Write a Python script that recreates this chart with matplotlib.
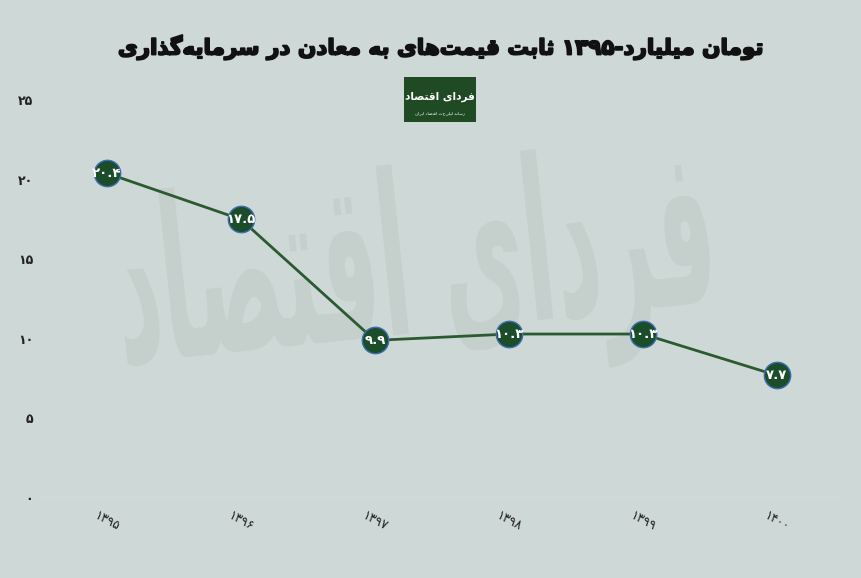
import matplotlib
matplotlib.use("Agg")
import matplotlib.pyplot as plt
import matplotlib.patheffects as pe
from matplotlib.patches import Rectangle, PathPatch
from matplotlib.textpath import TextPath
from matplotlib.font_manager import FontProperties
from matplotlib.transforms import Affine2D, IdentityTransform

# ===== DATA =====
years = ["۱۳۹۵", "۱۳۹۶", "۱۳۹۷", "۱۳۹۸", "۱۳۹۹", "۱۴۰۰"]
values = [20.4, 17.5, 9.9, 10.3, 10.3, 7.7]
value_labels = ["۲۰.۴", "۱۷.۵", "۹.۹", "۱۰.۳", "۱۰.۳", "۷.۷"]
y_ticks = [0, 5, 10, 15, 20, 25]
y_tick_labels = ["۰", "۵", "۱۰", "۱۵", "۲۰", "۲۵"]
title = "سرمایه‌گذاری در معادن به قیمت‌های ثابت ۱۳۹۵-میلیارد تومان"
brand = "فردای اقتصاد"

BG = "#ced8d6"
GREEN = "#1c4d2a"
LINE = "#2b5a31"

# --- tiny arabic/persian shaper (matplotlib does no shaping) ---
# char: (isolated, final, initial, medial); 2-tuple = right-joining only
FORMS = {
    "ا": (0xFE8D, 0xFE8E), "د": (0xFEA9, 0xFEAA), "ذ": (0xFEAB, 0xFEAC),
    "ر": (0xFEAD, 0xFEAE), "و": (0xFEED, 0xFEEE),
    "ب": (0xFE8F, 0xFE90, 0xFE91, 0xFE92), "ت": (0xFE95, 0xFE96, 0xFE97, 0xFE98),
    "ث": (0xFE99, 0xFE9A, 0xFE9B, 0xFE9C), "س": (0xFEB1, 0xFEB2, 0xFEB3, 0xFEB4),
    "ص": (0xFEB9, 0xFEBA, 0xFEBB, 0xFEBC), "ع": (0xFEC9, 0xFECA, 0xFECB, 0xFECC),
    "ف": (0xFED1, 0xFED2, 0xFED3, 0xFED4), "ق": (0xFED5, 0xFED6, 0xFED7, 0xFED8),
    "ل": (0xFEDD, 0xFEDE, 0xFEDF, 0xFEE0), "م": (0xFEE1, 0xFEE2, 0xFEE3, 0xFEE4),
    "ن": (0xFEE5, 0xFEE6, 0xFEE7, 0xFEE8), "ه": (0xFEE9, 0xFEEA, 0xFEEB, 0xFEEC),
    "ی": (0xFBFC, 0xFBFD, 0xFBFE, 0xFBFF), "گ": (0xFB92, 0xFB93, 0xFB94, 0xFB95),
}


def shape_run(s):
    out = []
    for i, c in enumerate(s):
        if c not in FORMS:
            if c != "\u200c":
                out.append(c)
            continue
        prev = s[i - 1] if i > 0 else ""
        nxt = s[i + 1] if i + 1 < len(s) else ""
        jp = prev in FORMS and len(FORMS[prev]) == 4
        jn = len(FORMS[c]) == 4 and nxt in FORMS
        f = FORMS[c]
        if jp and jn:
            g = f[3]
        elif jp:
            g = f[1]
        elif jn:
            g = f[2]
        else:
            g = f[0]
        out.append(chr(g))
    return "".join(out[::-1])


def shape_token(tok):
    # keep run order left to right, shape each arabic run
    runs, cur, cur_ar = [], "", None
    for c in tok:
        ar = c in FORMS or c == "\u200c"
        if cur and ar != cur_ar:
            runs.append((cur, cur_ar))
            cur = ""
        cur += c
        cur_ar = ar
    if cur:
        runs.append((cur, cur_ar))
    return "".join(shape_run(r) if a else r for r, a in runs)


def rtl(text):
    return " ".join(shape_token(w) for w in text.split(" ")[::-1])


def ltr_words(text):
    # the reference title keeps words in left-to-right order
    return " ".join(shape_token(w) for w in text.split(" "))


plt.rcParams["font.family"] = ["DejaVu Sans"]

fig = plt.figure(figsize=(8.62, 5.78), dpi=100)
fig.patch.set_facecolor(BG)
ax = fig.add_axes([0.0464, 0.1384, 0.9326, 0.6886])
ax.patch.set_alpha(0)

# watermark, stretched to the tall calligraphic look of the original
tp = TextPath((0, 0), rtl(brand), size=1,
              prop=FontProperties(family="DejaVu Sans", weight="bold"))
ext = tp.get_extents()
wm_tr = (Affine2D().translate(-(ext.x0 + ext.x1) / 2, -(ext.y0 + ext.y1) / 2)
         .scale(590 / ext.width, 225 / ext.height).rotate_deg(6)
         .translate(415, 578 - 275))
wm = PathPatch(wm_tr.transform_path(tp), facecolor="#c5cfcc", edgecolor="none",
               transform=IdentityTransform(), zorder=-1)
fig.patches.append(wm)

x = list(range(len(years)))
ax.axhline(0, color="#e2e8e6", lw=1, zorder=1)
ax.plot(x, values, color=LINE, lw=2, zorder=2)
ax.plot(x, values, "o", ms=19, mfc=GREEN, mec="#3d6db3", mew=1, zorder=3)
for xi, v, lab in zip(x, values, value_labels):
    ax.text(xi, v, lab, color="white", fontsize=9.5, fontweight="bold",
            ha="center", va="center", zorder=4)

ax.set_xlim(-0.5, len(years) - 0.5)
ax.set_ylim(0, 25)
ax.set_yticks(y_ticks)
ax.set_yticklabels(y_tick_labels, fontsize=9, fontweight="bold", color="#222222")
ax.set_xticks(x)
ax.set_xticklabels(years, fontsize=9, rotation=-28, color="#222222")
ax.tick_params(axis="both", length=0)
ax.tick_params(axis="x", pad=8)
ax.tick_params(axis="y", pad=5)
for sp in ax.spines.values():
    sp.set_visible(False)

fig.text(0.51, 0.918, ltr_words(title), fontsize=15.5, fontweight="bold",
         color="#111111", ha="center", va="center",
         path_effects=[pe.withStroke(linewidth=1.3, foreground="#111111")])

# logo box
fig.patches.append(Rectangle((404 / 862, 1 - 122 / 578), 72 / 862, 45 / 578,
                             transform=fig.transFigure, facecolor="#1f4a24",
                             edgecolor="none", zorder=5))
fig.text(440 / 862, 1 - 97 / 578, rtl(brand), fontsize=7.6, fontweight="bold",
         color="white", ha="center", va="center", zorder=6)
fig.text(440 / 862, 1 - 113 / 578, rtl("رسانه تحلیلی اقتصاد ایران"), fontsize=3.2,
         color="white", ha="center", va="center", zorder=6)

fig.savefig("out.png", dpi=100, facecolor=BG)
